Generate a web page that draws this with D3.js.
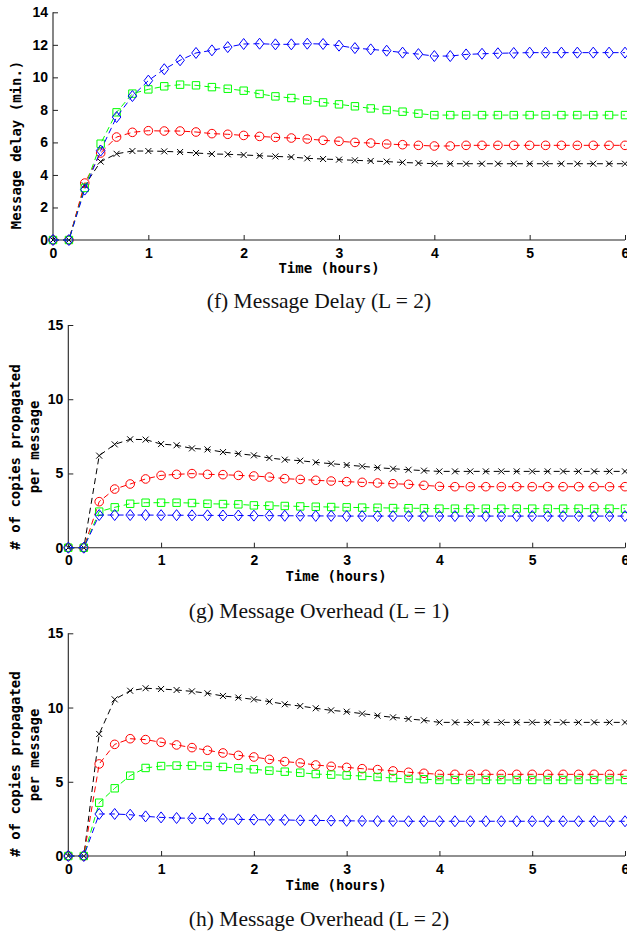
<!DOCTYPE html>
<html>
<head>
<meta charset="utf-8">
<script src="https://cdn.jsdelivr.net/npm/d3@7"></script>
<style>
  html, body { margin: 0; padding: 0; background: #fff; }
  svg { display: block; }
</style>
</head>
<body>
<svg id="chart" width="627" height="932"></svg>
<script>
// ---------- DATA ----------
const hours = [0, 0.167, 0.333, 0.5, 0.667, 0.833, 1, 1.167, 1.333, 1.5, 1.667, 1.833,
  2, 2.167, 2.333, 2.5, 2.667, 2.833, 3, 3.167, 3.333, 3.5, 3.667, 3.833,
  4, 4.167, 4.333, 4.5, 4.667, 4.833, 5, 5.167, 5.333, 5.5, 5.667, 5.833, 6];

const xTicks = [0, 1, 2, 3, 4, 5, 6];
const delayTicks = [0, 2, 4, 6, 8, 10, 12, 14];
const overheadTicks = [0, 5, 10, 15];

// (f) Message Delay (L = 2)
const delayBlack = [0, 0, 3.36, 4.82, 5.3, 5.47, 5.47, 5.45, 5.41, 5.35, 5.29, 5.27, 5.23, 5.18, 5.14, 5.1, 5.02, 4.98, 4.94, 4.9, 4.86, 4.82, 4.77, 4.73, 4.69, 4.69, 4.69, 4.69, 4.69, 4.69, 4.69, 4.69, 4.69, 4.69, 4.69, 4.69, 4.69];
const delayRed = [0, 0, 3.5, 5.35, 6.33, 6.62, 6.72, 6.7, 6.7, 6.64, 6.54, 6.5, 6.43, 6.37, 6.31, 6.27, 6.21, 6.13, 6.07, 6.0, 5.96, 5.9, 5.86, 5.82, 5.78, 5.78, 5.82, 5.82, 5.82, 5.82, 5.82, 5.82, 5.82, 5.82, 5.82, 5.82, 5.82];
const delayGreen = [0, 0, 3.2, 5.92, 7.85, 9.0, 9.26, 9.45, 9.55, 9.51, 9.4, 9.3, 9.18, 8.98, 8.83, 8.73, 8.59, 8.46, 8.34, 8.22, 8.09, 7.99, 7.89, 7.77, 7.68, 7.68, 7.68, 7.68, 7.68, 7.68, 7.68, 7.68, 7.68, 7.68, 7.68, 7.68, 7.68];
const delayBlue = [0, 0, 3.1, 5.5, 7.56, 8.85, 9.8, 10.5, 11.05, 11.5, 11.66, 11.86, 12.05, 12.07, 12.03, 12.03, 12.07, 12.05, 11.95, 11.8, 11.72, 11.64, 11.52, 11.43, 11.31, 11.31, 11.41, 11.45, 11.48, 11.5, 11.52, 11.52, 11.52, 11.52, 11.52, 11.52, 11.52];

// (g) Message Overhead (L = 1)
const ovh1Black = [0, 0, 6.2, 6.96, 7.3, 7.28, 6.98, 6.9, 6.69, 6.62, 6.44, 6.33, 6.22, 6.04, 5.93, 5.86, 5.75, 5.66, 5.57, 5.48, 5.39, 5.32, 5.25, 5.19, 5.14, 5.14, 5.14, 5.14, 5.14, 5.14, 5.14, 5.14, 5.14, 5.14, 5.14, 5.14, 5.14];
const ovh1Red = [0, 0, 3.1, 3.95, 4.29, 4.63, 4.87, 4.94, 4.99, 4.94, 4.92, 4.87, 4.83, 4.76, 4.65, 4.6, 4.54, 4.49, 4.45, 4.4, 4.36, 4.31, 4.27, 4.2, 4.13, 4.11, 4.11, 4.11, 4.11, 4.11, 4.11, 4.11, 4.11, 4.11, 4.11, 4.11, 4.11];
const ovh1Green = [0, 0, 2.43, 2.72, 2.96, 3.03, 3.03, 3.03, 3.01, 2.96, 2.94, 2.92, 2.85, 2.83, 2.81, 2.78, 2.76, 2.74, 2.72, 2.7, 2.69, 2.67, 2.66, 2.65, 2.63, 2.63, 2.63, 2.63, 2.63, 2.63, 2.63, 2.63, 2.63, 2.63, 2.63, 2.63, 2.63];
const ovh1Blue = [0, 0, 2.2, 2.2, 2.2, 2.2, 2.19, 2.19, 2.18, 2.18, 2.17, 2.17, 2.16, 2.16, 2.15, 2.15, 2.14, 2.14, 2.13, 2.13, 2.13, 2.13, 2.13, 2.13, 2.13, 2.13, 2.13, 2.13, 2.13, 2.13, 2.13, 2.13, 2.13, 2.13, 2.13, 2.13, 2.13];

// (h) Message Overhead (L = 2)
const ovh2Black = [0, 0, 8.22, 10.55, 11.13, 11.3, 11.25, 11.18, 11.09, 10.96, 10.78, 10.67, 10.55, 10.4, 10.22, 10.1, 9.95, 9.81, 9.72, 9.59, 9.45, 9.34, 9.23, 9.14, 9.0, 9.0, 9.0, 9.0, 9.0, 9.0, 9.0, 9.0, 9.0, 9.0, 9.0, 9.0, 9.0];
const ovh2Red = [0, 0, 6.2, 7.52, 7.9, 7.84, 7.66, 7.48, 7.3, 7.12, 6.94, 6.78, 6.67, 6.51, 6.36, 6.27, 6.13, 6.04, 5.97, 5.88, 5.82, 5.73, 5.64, 5.57, 5.5, 5.5, 5.5, 5.5, 5.5, 5.5, 5.5, 5.5, 5.5, 5.5, 5.5, 5.5, 5.5];
const ovh2Green = [0, 0, 3.59, 4.56, 5.41, 5.93, 6.06, 6.09, 6.09, 6.06, 6.0, 5.91, 5.84, 5.75, 5.68, 5.61, 5.52, 5.48, 5.43, 5.39, 5.32, 5.25, 5.19, 5.17, 5.12, 5.12, 5.12, 5.12, 5.12, 5.12, 5.12, 5.12, 5.12, 5.12, 5.12, 5.12, 5.12];
const ovh2Blue = [0, 0, 2.83, 2.83, 2.78, 2.67, 2.6, 2.56, 2.54, 2.52, 2.49, 2.47, 2.45, 2.43, 2.43, 2.4, 2.4, 2.38, 2.37, 2.36, 2.35, 2.35, 2.34, 2.34, 2.34, 2.34, 2.34, 2.34, 2.34, 2.34, 2.34, 2.34, 2.34, 2.34, 2.34, 2.34, 2.34];

const seriesNames = ["black", "red", "green", "blue"];
const seriesColors = ["#000000", "#ff0000", "#00ff00", "#0000ff"];
const seriesMarkers = ["x", "circle", "square", "diamond"];

// ---------- DRAW ----------
const svg = d3.select("#chart");
const tickFont = "'Liberation Sans', Arial, sans-serif";
const monoFont = "'DejaVu Sans Mono', 'Liberation Mono', monospace";
const serifFont = "'Liberation Serif', 'Times New Roman', serif";

function markerPath(type) {
  if (type === "x") return "M-3,-3L3,3M-3,3L3,-3";
  if (type === "square") return "M-3.7,-3.7H3.7V3.7H-3.7Z";
  if (type === "diamond") return "M0,-5.5L4.3,0L0,5.5L-4.3,0Z";
  return null;
}

function drawPanel(p) {
  const x = d3.scaleLinear().domain([0, 6]).range([p.x0, p.x1]);
  const y = d3.scaleLinear().domain([0, p.yMax]).range([p.y0, p.y1]);
  const g = svg.append("g");

  const xAxis = d3.axisBottom(x).tickValues(xTicks).tickSize(-5).tickPadding(10).tickFormat(d3.format("d"));
  const yAxis = d3.axisLeft(y).tickValues(p.yTicks).tickSize(-5).tickPadding(10).tickFormat(d3.format("d"));
  const gx = g.append("g").attr("transform", `translate(0,${p.y0})`).call(xAxis);
  const gy = g.append("g").attr("transform", `translate(${p.x0},0)`).call(yAxis);
  [gx, gy].forEach(a => {
    a.select(".domain").attr("stroke", "#222").attr("stroke-width", 1.1);
    a.selectAll(".tick line").attr("stroke", "#222").attr("stroke-width", 1);
    a.selectAll(".tick text").attr("font-family", tickFont).attr("font-weight", "bold")
      .attr("font-size", 14).attr("fill", "#000");
  });
  gx.selectAll(".tick text").attr("dy", "0.55em");
  gy.selectAll(".tick text").attr("x", -5);
  gx.select(".domain").attr("d", `M${p.x0},0H${p.x1}`);
  gy.select(".domain").attr("d", `M0,${p.y0}V${p.y1}`);

  p.series.forEach((vals, i) => {
    const pts = hours.map((h, k) => [x(h), y(vals[k])]);
    const line = d3.line();
    g.append("path").attr("d", line(pts)).attr("fill", "none")
      .attr("stroke", seriesColors[i]).attr("stroke-width", 1)
      .attr("stroke-dasharray", "6,4");
    const mk = g.append("g");
    pts.forEach(pt => {
      if (seriesMarkers[i] === "circle") {
        mk.append("circle").attr("cx", pt[0]).attr("cy", pt[1]).attr("r", 4.3)
          .attr("fill", "none").attr("stroke", seriesColors[i]).attr("stroke-width", 1);
      } else {
        mk.append("path").attr("d", markerPath(seriesMarkers[i]))
          .attr("transform", `translate(${pt[0]},${pt[1]})`)
          .attr("fill", "none").attr("stroke", seriesColors[i]).attr("stroke-width", 1);
      }
    });
  });

  g.append("text").attr("x", p.xlabX).attr("y", p.xlabY).attr("text-anchor", "middle")
    .attr("font-family", monoFont).attr("font-weight", "bold").attr("font-size", 14)
    .text("Time (hours)");
  p.ylab.forEach(l => {
    g.append("text").attr("transform", `translate(${l.x},${l.y}) rotate(-90)`)
      .attr("text-anchor", "middle").attr("dominant-baseline", "central")
      .attr("font-family", monoFont).attr("font-weight", "bold").attr("font-size", 14)
      .text(l.t);
  });
  g.append("text").attr("x", 319).attr("y", p.capY).attr("text-anchor", "middle")
    .attr("font-family", serifFont).attr("font-size", 21.5).attr("fill", "#111")
    .text(p.caption);
}

drawPanel({
  x0: 53, x1: 625, y0: 240, y1: 12.3, yMax: 14, yTicks: delayTicks,
  series: [delayBlack, delayRed, delayGreen, delayBlue],
  xlabX: 329, xlabY: 273,
  ylab: [{ x: 16, y: 145, t: "Message delay (min.)" }],
  capY: 308, caption: "(f) Message Delay (L = 2)"
});
drawPanel({
  x0: 68.3, x1: 625, y0: 547.7, y1: 325, yMax: 15, yTicks: overheadTicks,
  series: [ovh1Black, ovh1Red, ovh1Green, ovh1Blue],
  xlabX: 336, xlabY: 581,
  ylab: [{ x: 15, y: 457, t: "# of copies propagated" }, { x: 34, y: 447, t: "per message" }],
  capY: 618, caption: "(g) Message Overhead (L = 1)"
});
drawPanel({
  x0: 68.3, x1: 625, y0: 856, y1: 633.3, yMax: 15, yTicks: overheadTicks,
  series: [ovh2Black, ovh2Red, ovh2Green, ovh2Blue],
  xlabX: 336, xlabY: 890,
  ylab: [{ x: 15, y: 764, t: "# of copies propagated" }, { x: 34, y: 755, t: "per message" }],
  capY: 926, caption: "(h) Message Overhead (L = 2)"
});
</script>
</body>
</html>
